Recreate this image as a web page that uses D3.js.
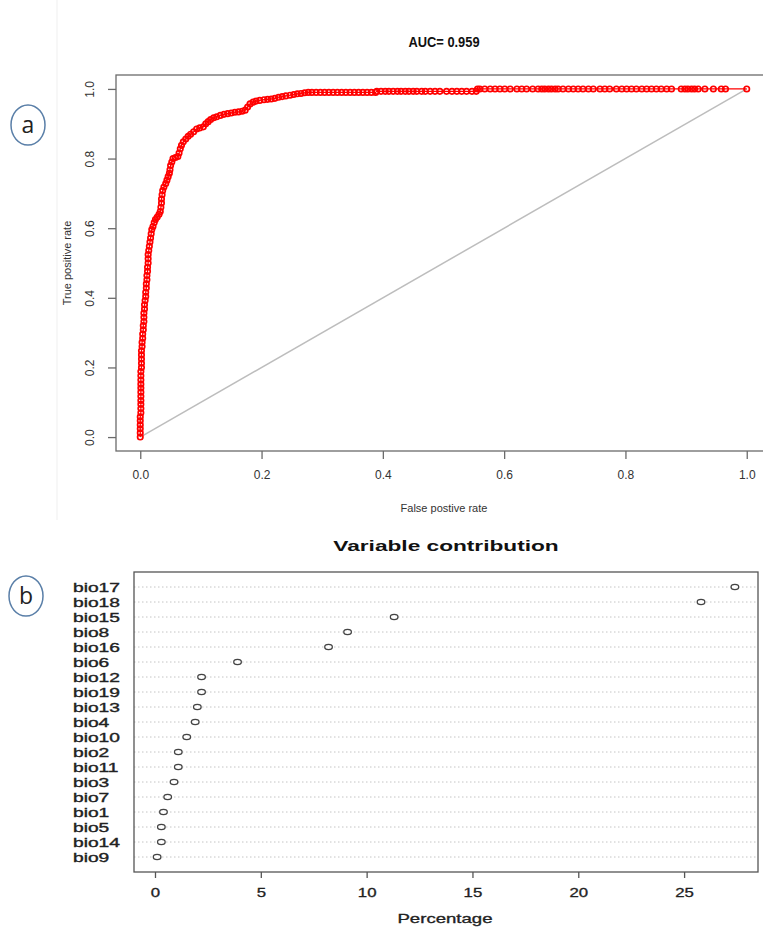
<!DOCTYPE html>
<html>
<head>
<meta charset="utf-8">
<script src="https://cdn.jsdelivr.net/npm/d3@7"></script>
<style>
  body { margin: 0; background: #fff; }
  svg { display: block; font-family: "Liberation Sans", Arial, sans-serif; }
</style>
</head>
<body>
<div id="fig"></div>
<script>
// ROC points (false positive rate, true positive rate)
var rocFpr = [0,0,0,0,0,0,0.001,0.001,0.001,0.001,0.001,0.001,0.001,0.001,0.001,0.001,0.001,0.002,0.002,0.002,0.002,0.002,0.003,0.003,0.004,0.004,
  0.005,0.005,0.006,0.006,0.006,0.007,0.007,0.008,0.009,0.009,0.010,0.010,0.011,0.011,0.012,0.012,0.013,0.013,0.013,0.014,0.015,0.016,0.017,0.018,
  0.019,0.021,0.023,0.025,0.028,0.031,0.033,0.034,0.035,0.035,0.036,0.037,0.039,0.042,0.044,0.046,0.048,0.049,0.050,0.052,0.054,0.058,0.062,0.064,
  0.066,0.068,0.071,0.075,0.079,0.083,0.088,0.093,0.098,0.104,0.108,0.112,0.116,0.121,0.126,0.132,0.138,0.144,0.150,0.156,0.162,0.168,0.173,0.177,
  0.181,0.186,0.191,0.197,0.204,0.210,0.216,0.222,0.228,0.234,0.240,0.247,0.253,0.259,0.265,0.271,0.277,0.283,0.290,0.297,0.304,0.311,0.318,0.325,
  0.332,0.339,0.346,0.353,0.360,0.367,0.374,0.381,0.388,0.390,0.397,0.404,0.410,0.417,0.424,0.430,0.437,0.443,0.450,0.456,0.464,0.470,0.478,0.486,
  0.494,0.505,0.514,0.522,0.530,0.538,0.547,0.554,0.556,0.560,0.568,0.577,0.585,0.593,0.601,0.610,0.621,0.629,0.637,0.647,0.656,0.662,0.667,0.673,
  0.678,0.684,0.689,0.697,0.706,0.714,0.722,0.730,0.739,0.747,0.758,0.766,0.774,0.785,0.794,0.802,0.810,0.818,0.827,0.835,0.843,0.851,0.859,0.868,
  0.876,0.892,0.898,0.903,0.909,0.914,0.920,0.931,0.945,0.958,0.965,1.0];
var rocTpr = [0,0.012,0.024,0.035,0.047,0.058,0.070,0.082,0.094,0.105,0.117,0.129,0.141,0.152,0.164,0.176,0.188,0.200,0.212,0.224,0.236,0.248,0.260,0.272,0.284,0.296,
  0.308,0.320,0.332,0.344,0.356,0.368,0.380,0.392,0.404,0.416,0.428,0.440,0.452,0.464,0.476,0.488,0.500,0.512,0.524,0.536,0.548,0.560,0.572,0.584,
  0.596,0.605,0.616,0.625,0.632,0.640,0.648,0.660,0.672,0.684,0.696,0.708,0.718,0.728,0.738,0.748,0.758,0.768,0.780,0.790,0.800,0.803,0.806,0.816,
  0.828,0.838,0.848,0.856,0.864,0.870,0.877,0.885,0.888,0.891,0.900,0.906,0.912,0.917,0.920,0.924,0.927,0.929,0.931,0.933,0.934,0.936,0.939,0.948,
  0.957,0.962,0.965,0.967,0.969,0.970,0.971,0.973,0.976,0.978,0.980,0.982,0.984,0.986,0.987,0.989,0.990,0.990,0.990,0.990,0.990,0.990,0.990,0.990,
  0.990,0.990,0.990,0.990,0.990,0.990,0.990,0.990,0.990,0.993,0.993,0.993,0.993,0.993,0.993,0.993,0.993,0.993,0.993,0.993,0.993,0.993,0.993,0.993,
  0.993,0.993,0.993,0.993,0.993,0.993,0.993,0.993,1,1,1,1,1,1,1,1,1,1,1,1,1,1,1,1,
  1,1,1,1,1,1,1,1,1,1,1,1,1,1,1,1,1,1,1,1,1,1,1,1,
  1,1,1,1,1,1,1,1,1,1,1,1];
var rocTicks = [0, 0.2, 0.4, 0.6, 0.8, 1.0];
var aucText = "AUC= 0.959";

// variable contribution (%)
var variables = ["bio17","bio18","bio15","bio8","bio16","bio6","bio12","bio19","bio13","bio4",
                 "bio10","bio2","bio11","bio3","bio7","bio1","bio5","bio14","bio9"];
var contribution = [27.4,25.8,11.3,9.1,8.2,3.9,2.2,2.2,2.0,1.9,
                    1.5,1.1,1.1,0.9,0.6,0.4,0.3,0.3,0.1];
var pctTicks = [0, 5, 10, 15, 20, 25];

var svg = d3.select("#fig").append("svg").attr("width", 763).attr("height", 927);

// faint edge of the pasted panel
svg.append("line").attr("x1", 57).attr("x2", 57).attr("y1", 0).attr("y2", 520)
   .style("stroke", "#efefef").style("stroke-width", 1);

function panelLabel(cx, cy, txt){
  svg.append("ellipse").attr("cx", cx).attr("cy", cy).attr("rx", 17).attr("ry", 20)
     .style("fill", "#fff").style("stroke", "#5a7fa8").style("stroke-width", 1.5);
  svg.append("text").attr("x", cx).attr("y", cy + 8).attr("text-anchor", "middle")
     .style("font-family", "'Open Sans', sans-serif").style("font-size", "23px").style("fill", "#222")
     .text(txt);
}
panelLabel(28, 125, "a");
panelLabel(26, 596, "b");

// ---------- panel a : ROC ----------
var xA = d3.scaleLinear().domain([-0.04, 1.04]).range([116, 771]);
var yA = d3.scaleLinear().domain([-0.04, 1.04]).range([451, 75]);

svg.append("text").attr("transform", "translate(444,47) scale(0.92,1)").attr("text-anchor", "middle")
   .style("font-size", "14px").style("font-weight", "bold").style("fill", "#111")
   .text(aucText);

// chance line
svg.append("line")
   .attr("x1", xA(0)).attr("y1", yA(0)).attr("x2", xA(1)).attr("y2", yA(1))
   .style("stroke", "#bdbdbd").style("stroke-width", 1.5);

var rocPts = rocFpr.map(function(d, i){ return [d, rocTpr[i]]; });
svg.append("path").datum(rocPts)
   .attr("d", d3.line().x(function(d){ return xA(d[0]); }).y(function(d){ return yA(d[1]); }))
   .style("fill", "none").style("stroke", "#ff0000").style("stroke-width", 1.2);

svg.selectAll("circle.roc").data(rocPts).enter().append("circle")
   .attr("class", "roc")
   .attr("cx", function(d){ return xA(d[0]); })
   .attr("cy", function(d){ return yA(d[1]); })
   .attr("r", 2.7)
   .style("fill", "none").style("stroke", "#ff0000").style("stroke-width", 1.7);

svg.append("rect").attr("x", 116).attr("y", 75).attr("width", 655).attr("height", 376)
   .style("fill", "none").style("stroke", "#6b6b6b").style("stroke-width", 1.3);

var xAxisA = d3.axisBottom(xA).tickValues(rocTicks).tickFormat(d3.format(".1f")).tickSize(8).tickPadding(11);
var gxA = svg.append("g").attr("transform", "translate(0,451)").call(xAxisA);
gxA.select(".domain").remove();
gxA.selectAll("line").style("stroke", "#6b6b6b").style("stroke-width", 1.3);
gxA.selectAll("text").style("font-size", "12px").style("fill", "#333").style("font-family", "'Liberation Sans', Arial, sans-serif");

var yAxisA = d3.axisLeft(yA).tickValues(rocTicks).tickFormat(d3.format(".1f")).tickSize(8);
var gyA = svg.append("g").attr("transform", "translate(116,0)").call(yAxisA);
gyA.select(".domain").remove();
gyA.selectAll("line").style("stroke", "#6b6b6b").style("stroke-width", 1.3);
gyA.selectAll("text")
   .attr("x", 0).attr("y", -22).attr("dy", 0)
   .attr("transform", "rotate(-90)")
   .attr("text-anchor", "middle")
   .style("font-size", "12px").style("fill", "#333").style("font-family", "'Liberation Sans', Arial, sans-serif");

svg.append("text").attr("x", 444).attr("y", 512).attr("text-anchor", "middle")
   .style("font-size", "11px").style("fill", "#333").text("False postive rate");
svg.append("text").attr("transform", "translate(71,263) rotate(-90)").attr("text-anchor", "middle")
   .style("font-size", "11px").style("fill", "#333").text("True positive rate");

// ---------- panel b : variable contribution (dot chart) ----------
var pad = (d3.max(contribution) - d3.min(contribution)) * 0.04;
var xB = d3.scaleLinear().domain([d3.min(contribution) - pad, d3.max(contribution) + pad]).range([134, 758]);
var yB = d3.scaleLinear().domain([0, variables.length + 1]).range([872, 572]);
function rowY(i){ return yB(variables.length - i); }

svg.append("text").attr("transform", "translate(446,551) scale(1.62,1)").attr("text-anchor", "middle")
   .style("font-size", "14px").style("font-weight", "bold").style("fill", "#111")
   .text("Variable contribution");

svg.selectAll("line.row").data(variables).enter().append("line")
   .attr("class", "row")
   .attr("x1", 134).attr("x2", 758)
   .attr("y1", function(d, i){ return rowY(i); })
   .attr("y2", function(d, i){ return rowY(i); })
   .style("stroke", "#c4c4c4").style("stroke-width", 1).style("stroke-dasharray", "1.5,2.5");

svg.selectAll("text.var").data(variables).enter().append("text")
   .attr("class", "var")
   .attr("transform", function(d, i){ return "translate(73," + (rowY(i) + 4.5) + ") scale(1.6,1)"; })
   .style("font-size", "12px").style("fill", "#222").style("stroke", "#222").style("stroke-width", 0.35)
   .text(function(d){ return d; });

svg.selectAll("ellipse.dot").data(contribution).enter().append("ellipse")
   .attr("class", "dot")
   .attr("cx", function(d){ return xB(d); })
   .attr("cy", function(d, i){ return rowY(i); })
   .attr("rx", 3.8).attr("ry", 2.6)
   .style("fill", "#fff").style("stroke", "#444").style("stroke-width", 1.3);

svg.append("rect").attr("x", 134).attr("y", 572).attr("width", 624).attr("height", 300)
   .style("fill", "none").style("stroke", "#555").style("stroke-width", 1.3);

var xAxisB = d3.axisBottom(xB).tickValues(pctTicks).tickFormat(d3.format("d")).tickSize(6);
var gxB = svg.append("g").attr("transform", "translate(0,872)").call(xAxisB);
gxB.select(".domain").remove();
gxB.selectAll("line").style("stroke", "#555").style("stroke-width", 1.3);
gxB.selectAll("text").remove();
gxB.selectAll(".tick").append("text")
   .attr("transform", "translate(0,25) scale(1.4,1)")
   .attr("text-anchor", "middle")
   .style("font-size", "12px").style("fill", "#222").style("stroke", "#222").style("stroke-width", 0.3)
   .style("font-family", "'Liberation Sans', Arial, sans-serif")
   .text(function(d){ return d; });

svg.append("text").attr("transform", "translate(445,923) scale(1.55,1)").attr("text-anchor", "middle")
   .style("font-size", "12px").style("fill", "#222").style("stroke", "#222").style("stroke-width", 0.3)
   .text("Percentage");
</script>
</body>
</html>
